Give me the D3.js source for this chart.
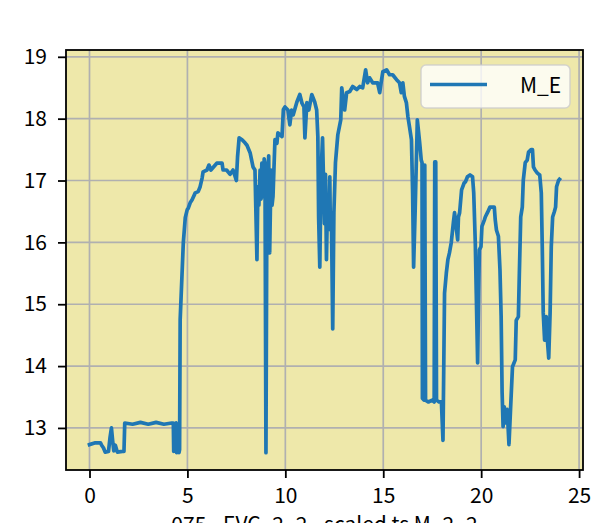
<!DOCTYPE html>
<html>
<head>
<meta charset="utf-8">
<script src="https://cdn.jsdelivr.net/npm/d3@7"></script>
<style>
  html, body { margin: 0; padding: 0; background: #ffffff; }
  svg { display: block; }
</style>
</head>
<body>
<div id="chart"></div>
<script>
// time axis (x) and M_E readings (y)
const timeVals = [
	0, 0.3, 0.56, 0.62, 0.71, 0.8, 0.97, 1.05, 1.12, 1.18, 1.24, 1.32, 1.42, 1.68, 1.76,
	1.8, 2.2, 2.6, 3.0, 3.4, 3.8, 4.2, 4.28, 4.3, 4.34, 4.42, 4.45, 4.5, 4.53, 4.57, 4.6,
	4.63, 4.79, 4.89, 4.99, 5.04, 5.14, 5.24, 5.4, 5.55, 5.65, 5.75, 5.8, 6.0, 6.1, 6.2,
	6.5, 6.77, 6.82, 7.0, 7.18, 7.33, 7.5, 7.56, 7.64, 7.79, 7.94, 8.04, 8.2, 8.35, 8.45,
	8.55, 8.6, 8.65, 8.71, 8.76, 8.8, 8.87, 8.92, 8.96, 9.01, 9.06, 9.1, 9.15, 9.2, 9.27,
	9.32, 9.37, 9.42, 9.47, 9.57, 9.62, 9.83, 9.9, 9.98, 10.13, 10.23, 10.32, 10.4, 10.59,
	10.74, 10.85, 10.95, 11.0, 11.1, 11.2, 11.35, 11.5, 11.6, 11.66, 11.7, 11.76, 11.8,
	11.86, 11.9, 11.95, 12.0, 12.05, 12.1, 12.16, 12.22, 12.27, 12.3, 12.35, 12.42, 12.48,
	12.56, 12.68, 12.83, 12.88, 12.94, 13.03, 13.13, 13.29, 13.44, 13.65, 13.8, 13.95,
	14.1, 14.2, 14.3, 14.46, 14.71, 14.82, 14.9, 14.98, 15.17, 15.32, 15.48, 15.68, 15.83,
	15.92, 16.0, 16.08, 16.18, 16.26, 16.34, 16.44, 16.5, 16.55, 16.63, 16.74, 16.86,
	16.94, 16.98, 17.0, 17.08, 17.12, 17.16, 17.3, 17.5, 17.6, 17.63, 17.68, 17.72, 17.85,
	17.97, 18.05, 18.13, 18.22, 18.3, 18.38, 18.47, 18.58, 18.64, 18.72, 18.8, 18.84, 18.9,
	19.0, 19.13, 19.2, 19.3, 19.43, 19.56, 19.62, 19.7, 19.75, 19.82, 19.87, 19.91, 19.99,
	20.04, 20.16, 20.21, 20.32, 20.45, 20.58, 20.67, 20.72, 20.78, 20.88, 20.96, 21.02,
	21.07, 21.12, 21.18, 21.26, 21.33, 21.42, 21.5, 21.6, 21.74, 21.79, 21.9, 21.95, 22.02,
	22.1, 22.15, 22.25, 22.35, 22.42, 22.55, 22.62, 22.67, 22.75, 22.87, 22.99, 23.07,
	23.12, 23.17, 23.24, 23.32, 23.37, 23.45, 23.52, 23.58, 23.65, 23.74, 23.8, 23.85,
	23.95, 24.0
];
const meValues = [
	12.73, 12.76, 12.76, 12.72, 12.68, 12.61, 12.62, 12.85, 13.0, 12.8, 12.63, 12.72, 12.61, 12.62, 12.62,
	13.08, 13.06, 13.09, 13.06, 13.09, 13.06, 13.08, 13.08, 12.62, 13.07, 13.08, 12.6, 12.62, 13.05, 12.6, 12.65,
	14.75, 15.99, 16.4, 16.53, 16.55, 16.64, 16.69, 16.8, 16.82, 16.9, 17.04, 17.14, 17.17, 17.25, 17.17,
	17.28, 17.28, 17.17, 17.17, 17.1, 17.17, 17.0, 17.38, 17.69, 17.66, 17.61, 17.57, 17.45, 17.22, 17.17,
	15.72, 16.9, 16.6, 17.17, 16.7, 17.28, 16.74, 17.35, 17.28, 12.6, 16.8, 16.9, 17.4, 15.83, 17.17,
	16.6, 16.74, 17.2, 17.66, 17.6, 17.77, 17.71, 18.15, 18.19, 18.14, 17.9, 18.14, 18.06, 18.27,
	18.39, 18.25, 18.19, 17.69, 18.26, 18.14, 18.39, 18.27, 18.14, 17.71, 16.41, 15.6, 16.5,
	17.38, 17.69, 17.0, 16.3, 17.1, 15.72, 16.74, 16.4, 17.06, 16.2, 16.48, 14.6, 16.48,
	17.29, 17.74, 17.98, 18.5, 18.36, 18.14, 18.42, 18.44, 18.52, 18.47, 18.52, 18.5,
	18.79, 18.58, 18.66, 18.58, 18.58, 18.42, 18.6, 18.76, 18.79, 18.71, 18.71, 18.63, 18.58,
	18.42, 18.58, 18.36, 18.26, 18.03, 17.87, 17.66, 16.8, 15.6, 16.52, 17.98, 17.61,
	17.33, 17.29, 13.48, 13.45, 17.25, 13.45, 13.42, 13.45, 13.42, 17.3, 17.3, 13.45, 13.42,
	13.42, 12.8, 15.18, 15.5, 15.72, 15.83, 15.99, 16.32, 16.48, 16.26, 16.04, 16.41, 16.48,
	16.85, 16.96, 16.98, 17.06, 17.09, 17.06, 16.8, 15.99, 15.18, 14.05, 15.18, 15.88, 15.93,
	16.26, 16.36, 16.41, 16.48, 16.57, 16.57, 16.57, 16.36, 16.2, 16.1, 15.56, 14.8,
	13.57, 13.02, 13.34, 13.08, 13.3, 12.73, 13.3, 13.99, 14.1, 14.74, 14.8, 15.5, 16.41,
	16.57, 17.0, 17.29, 17.33, 17.46, 17.5, 17.5, 17.22, 17.17, 17.12, 17.09, 16.8,
	15.93, 14.86, 14.42, 14.8, 14.47, 14.13, 14.86, 15.93, 16.41, 16.5, 16.57, 16.9,
	17.0, 17.02
];
const xTicks = [0, 5, 10, 15, 20, 25];
const yTicks = [13, 14, 15, 16, 17, 18, 19];
const seriesName = "M_E";
const xLabelText = "075 - EVC_2_2 - scaled ts M_2_2";

const colors = {
	background: "#eee8aa",
	line: "#1f77b4",
	grid: "#b0b0b0",
	axis: "#000000",
	text: "#000000",
};
const dimensions = { width: 594, height: 523 };
const plot = { left: 66, right: 583, top: 50, bottom: 470 };
const fontFamily = "'Noto Sans CJK JP', 'DejaVu Sans', sans-serif";
const fontSize = "21px";
const lineWidth = 3.7;

const data = timeVals.map((t, i) => ({ t: t, v: meValues[i] }));

const svg = d3
	.select("#chart")
	.append("svg")
	.attr("width", dimensions.width)
	.attr("height", dimensions.height);

const x = d3.scaleLinear().domain([-1.2, 25.2]).range([plot.left, plot.right]);
const y = d3.scaleLinear().domain([12.32, 19.11]).range([plot.bottom, plot.top]);

// axes background
svg.append("rect")
	.attr("x", plot.left)
	.attr("y", plot.top)
	.attr("width", plot.right - plot.left)
	.attr("height", plot.bottom - plot.top)
	.attr("fill", colors.background);

// grid
const grid = svg.append("g");
grid.selectAll("line.gx")
	.data(xTicks)
	.enter()
	.append("line")
	.attr("x1", (d) => x(d))
	.attr("x2", (d) => x(d))
	.attr("y1", plot.top)
	.attr("y2", plot.bottom)
	.attr("stroke", colors.grid)
	.attr("stroke-width", 1.7);
grid.selectAll("line.gy")
	.data(yTicks)
	.enter()
	.append("line")
	.attr("x1", plot.left)
	.attr("x2", plot.right)
	.attr("y1", (d) => y(d))
	.attr("y2", (d) => y(d))
	.attr("stroke", colors.grid)
	.attr("stroke-width", 1.7);

// the series
svg.append("defs")
	.append("clipPath")
	.attr("id", "plotClip")
	.append("rect")
	.attr("x", plot.left)
	.attr("y", plot.top)
	.attr("width", plot.right - plot.left)
	.attr("height", plot.bottom - plot.top);

const line = d3.line().x((d) => x(d.t)).y((d) => y(d.v));
svg.append("path")
	.datum(data)
	.attr("clip-path", "url(#plotClip)")
	.attr("d", line)
	.attr("fill", "none")
	.attr("stroke", colors.line)
	.attr("stroke-width", lineWidth)
	.attr("stroke-linejoin", "round")
	.attr("stroke-linecap", "square");

// axes
const xAxis = d3.axisBottom(x).tickValues(xTicks).tickFormat(d3.format("d")).tickSizeOuter(0).tickSize(8).tickPadding(10);
const yAxis = d3.axisLeft(y).tickValues(yTicks).tickFormat(d3.format("d")).tickSizeOuter(0).tickSize(8).tickPadding(11);

const gx = svg.append("g").attr("transform", `translate(0, ${plot.bottom})`).call(xAxis);
const gy = svg.append("g").attr("transform", `translate(${plot.left}, 0)`).call(yAxis);
[gx, gy].forEach((g) => {
	g.select(".domain").remove();
	g.selectAll(".tick line").attr("stroke", colors.axis).attr("stroke-width", 1.8);
	g.selectAll(".tick text")
		.attr("fill", colors.text)
		.style("font-family", fontFamily)
		.style("font-size", fontSize);
});

// spines
svg.append("rect")
	.attr("x", plot.left)
	.attr("y", plot.top)
	.attr("width", plot.right - plot.left)
	.attr("height", plot.bottom - plot.top)
	.attr("fill", "none")
	.attr("stroke", colors.axis)
	.attr("stroke-width", 1.8);

// x label, mostly below the window edge as in the reference
svg.append("text")
	.attr("x", (plot.left + plot.right) / 2)
	.attr("y", 532)
	.attr("text-anchor", "middle")
	.attr("fill", colors.text)
	.style("font-family", fontFamily)
	.style("font-size", fontSize)
	.text(xLabelText);

// legend
const legend = svg.append("g").attr("transform", "translate(421, 65)");
legend.append("rect")
	.attr("width", 149)
	.attr("height", 43)
	.attr("rx", 5)
	.attr("fill", "#ffffff")
	.attr("fill-opacity", 0.8)
	.attr("stroke", "#cccccc")
	.attr("stroke-opacity", 0.8)
	.attr("stroke-width", 1.5);
legend.append("line")
	.attr("x1", 9)
	.attr("x2", 66)
	.attr("y1", 19.5)
	.attr("y2", 19.5)
	.attr("stroke", colors.line)
	.attr("stroke-width", lineWidth);
legend.append("text")
	.attr("x", 99)
	.attr("y", 28)
	.attr("fill", colors.text)
	.style("font-family", fontFamily)
	.style("font-size", fontSize)
	.text(seriesName);
</script>
</body>
</html>
